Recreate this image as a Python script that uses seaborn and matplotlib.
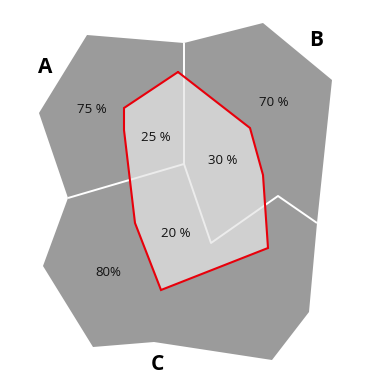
import matplotlib
matplotlib.use('Agg')
import matplotlib.pyplot as plt
import seaborn as sns

# region outlines (image pixel space, y grows downward)
region_names = ['A', 'B', 'C']
region_a = [(87, 35), (184, 43), (184, 164), (68, 198), (39, 113)]
region_b = [(184, 43), (263, 23), (332, 80), (317, 223), (278, 196), (211, 243), (184, 164)]
region_c = [(68, 198), (184, 164), (211, 243), (278, 196), (317, 223), (309, 312),
            (272, 360), (154, 342), (93, 347), (43, 266)]
region_pct = ['75 %', '70 %', '80%']
overlap_pct = ['25 %', '30 %', '20 %']

# highlighted subset outline
subset = [(178, 72), (250, 128), (263, 175), (268, 248), (161, 290), (135, 223),
          (124, 130), (124, 108)]

# borders between regions
borders = [[(184, 43), (184, 164)],
           [(68, 198), (184, 164)],
           [(184, 164), (211, 243), (278, 196), (317, 223)]]

# label anchors
name_pos = [(45, 67), (316, 40), (157, 364)]
pct_pos = [(92, 109), (274, 102), (108, 273)]
overlap_pos = [(156, 137), (223, 160), (176, 233)]

sns.set_style('white')
plt.rcParams['font.family'] = ['Open Sans', 'DejaVu Sans']

fig = plt.figure(figsize=(3.70, 3.89), dpi=100)
ax = fig.add_axes([0, 0, 1, 1])

for poly in [region_a, region_b, region_c]:
    xs, ys = zip(*poly)
    ax.fill(xs, ys, color='#9b9b9b', lw=0, zorder=1)

for line in borders:
    xs, ys = zip(*line)
    ax.plot(xs, ys, color='white', lw=1.4, zorder=2, solid_capstyle='butt')

sx, sy = zip(*subset)
patch = ax.fill(sx, sy, color='#d0d0d0', lw=0, zorder=3)[0]

# borders seen through the subset are lighter
for line in borders:
    xs, ys = zip(*line)
    ln = ax.plot(xs, ys, color='#ececec', lw=1.4, zorder=4)[0]
    ln.set_clip_path(patch)

ax.plot(list(sx) + [sx[0]], list(sy) + [sy[0]], color='#e8000b', lw=1.5,
        zorder=5, solid_joinstyle='miter')

for name, (x, y) in zip(region_names, name_pos):
    ax.text(x, y, name, ha='center', va='center', fontsize=15, fontweight='bold', color='black')
for t, (x, y) in zip(region_pct, pct_pos):
    ax.text(x, y, t, ha='center', va='center', fontsize=9.5, color='#111111')
for t, (x, y) in zip(overlap_pct, overlap_pos):
    ax.text(x, y, t, ha='center', va='center', fontsize=9.5, color='#111111', zorder=6)

ax.set_xlim(0, 370)
ax.set_ylim(389, 0)
ax.axis('off')

fig.savefig('out.png', dpi=100, facecolor='white')
